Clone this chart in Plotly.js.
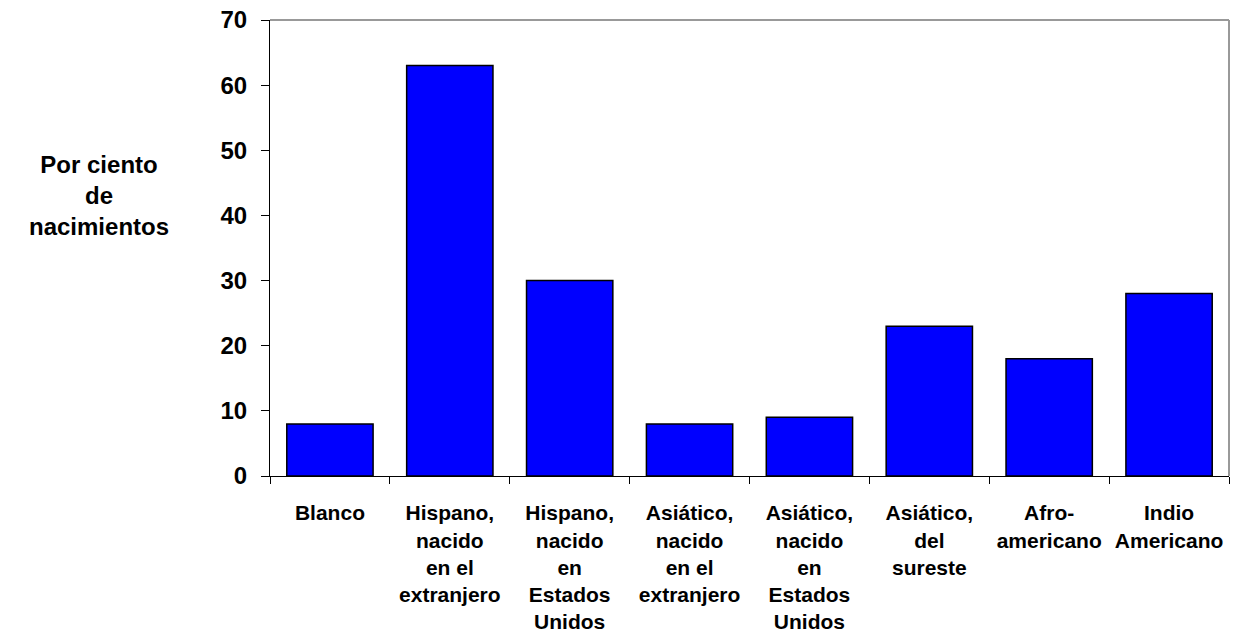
<!DOCTYPE html>
<html><head><meta charset="utf-8">
<script src="https://cdn.plot.ly/plotly-3.0.1.min.js"></script>
<style>html,body{margin:0;padding:0;background:#fff}#c{width:1254px;height:634px}</style>
</head><body><div id="c"></div>
<script>
const categories = [
  "Blanco",
  "Hispano,<br>nacido<br>en el<br>extranjero",
  "Hispano,<br>nacido<br>en<br>Estados<br>Unidos",
  "Asiático,<br>nacido<br>en el<br>extranjero",
  "Asiático,<br>nacido<br>en<br>Estados<br>Unidos",
  "Asiático,<br>del<br>sureste",
  "Afro-<br>americano",
  "Indio<br>Americano"
];
const values = [8, 63, 30, 8, 9, 23, 18, 28];
const yTicks = [0, 10, 20, 30, 40, 50, 60, 70];
const yTitle = "Por ciento<br>de<br>nacimientos";

const font = {family: "Liberation Sans, Arial, sans-serif", color: "#000"};

Plotly.newPlot("c", [{
  type: "bar",
  x: categories,
  y: values,
  marker: {color: "#0000ff", line: {color: "#000", width: 1.5}},
  hoverinfo: "skip"
}], {
  width: 1254, height: 634,
  margin: {l: 270, r: 25, t: 20, b: 158},
  paper_bgcolor: "#fff", plot_bgcolor: "#fff",
  bargap: 0.28,
  showlegend: false,
  xaxis: {
    type: "category",
    showline: true, linecolor: "#000", linewidth: 1,
    mirror: false,
    ticks: "outside", tickson: "boundaries", ticklen: 7, tickcolor: "#000",
    tickfont: Object.assign({size: 21, weight: "bold"}, font),
    ticklabelstandoff: 18,
    showgrid: false, zeroline: false, fixedrange: true
  },
  yaxis: {
    range: [0, 70],
    tickvals: yTicks,
    showline: true, linecolor: "#000", linewidth: 1,
    ticks: "outside", ticklen: 8, tickcolor: "#000",
    tickfont: Object.assign({size: 24, weight: "bold"}, font),
    ticklabelstandoff: 9,
    showgrid: false, zeroline: false, fixedrange: true
  },
  shapes: [
    {type: "line", xref: "paper", yref: "paper", x0: 0, x1: 1, y0: 1, y1: 1, line: {color: "#999", width: 2}},
    {type: "line", xref: "paper", yref: "paper", x0: 1, x1: 1, y0: 0, y1: 1, line: {color: "#999", width: 2}}
  ],
  annotations: [{
    text: yTitle, xref: "paper", yref: "paper",
    x: -0.178, y: 0.616, xanchor: "center", yanchor: "middle",
    showarrow: false, align: "center",
    font: Object.assign({size: 24, weight: "bold"}, font)
  }]
}, {displayModeBar: false, staticPlot: true});
</script></body></html>
